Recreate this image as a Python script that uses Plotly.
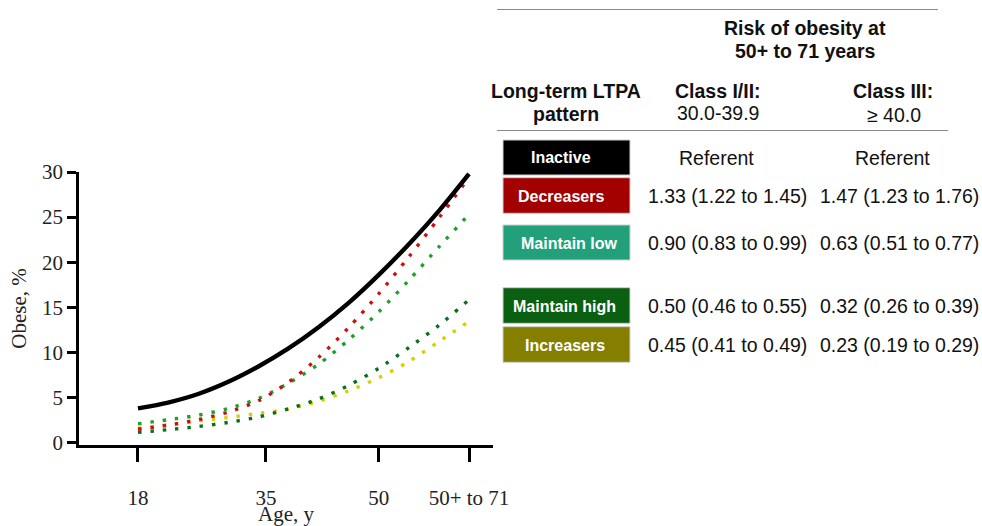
import plotly.graph_objects as go

# ---------------- data ----------------
ages = [18, 22, 26, 30, 34, 38, 42, 46, 50, 54, 58, 62]
inactive = [3.8, 4.45, 5.4, 6.75, 8.45, 10.45, 12.8, 15.5, 18.6, 22.0, 25.7, 29.8]
decreasers = [1.5, 1.95, 2.55, 3.4, 4.65, 6.7, 9.45, 12.75, 16.5, 20.6, 24.9, 29.4]
maintain_low = [2.1, 2.55, 3.05, 3.8, 4.9, 6.6, 8.7, 11.4, 14.5, 18.0, 21.7, 25.3]
maintain_high = [1.15, 1.45, 1.8, 2.25, 2.85, 3.75, 4.85, 6.35, 8.25, 10.55, 13.0, 15.85]
increasers = [1.6, 2.0, 2.4, 2.8, 3.25, 3.75, 4.6, 5.75, 7.2, 9.0, 11.2, 13.45]

x_tickvals = [18, 35, 50, 62]
x_ticktext = ["18", "35", "50", "50+ to 71"]
y_tickvals = [0, 5, 10, 15, 20, 25, 30]

patterns = ["Inactive", "Decreasers", "Maintain low", "Maintain high", "Increasers"]
class12 = ["Referent", "1.33 (1.22 to 1.45)", "0.90 (0.83 to 0.99)",
           "0.50 (0.46 to 0.55)", "0.45 (0.41 to 0.49)"]
class3 = ["Referent", "1.47 (1.23 to 1.76)", "0.63 (0.51 to 0.77)",
          "0.32 (0.26 to 0.39)", "0.23 (0.19 to 0.29)"]

# ---------------- styles ----------------
box_colors = ["#000000", "#A30000", "#22A07A", "#0B5F10", "#857F00"]
curve_styles = [
    (inactive, "#000000", None, 4.4),
    (decreasers, "#CC1010", "3.4px,9px", 3.4),
    (maintain_low, "#1EA02E", "3.4px,9px", 3.4),
    (maintain_high, "#0C6E1C", "3.4px,9px", 3.4),
    (increasers, "#D8CF00", "3.4px,9px", 3.4),
]

fig = go.Figure()
for vals, col, dash, w in [curve_styles[4], curve_styles[3], curve_styles[2], curve_styles[1], curve_styles[0]]:
    line = dict(color=col, width=w, shape="spline", smoothing=0.8)
    if dash:
        line["dash"] = dash
    fig.add_trace(go.Scatter(x=ages, y=vals, mode="lines", line=line,
                             hoverinfo="skip", showlegend=False))

W, H = 982, 526
# plot-area geometry in screen pixels
X0, X1 = 79, 493
Y0, Y1 = 445, 172
def px(x):
    return (x - X0) / (X1 - X0)
def py(y):
    return (Y0 - y) / (Y0 - Y1)

serif = "Liberation Serif, Times New Roman, serif"
sans = "Liberation Sans, Arial, sans-serif"

fig.update_layout(
    template="none",
    width=W, height=H,
    margin=dict(l=X0, r=W - X1, t=Y1, b=H - Y0, pad=0, autoexpand=False),
    paper_bgcolor="white", plot_bgcolor="white",
    showlegend=False,
    xaxis=dict(range=[10.16, 65.19], tickvals=x_tickvals, ticktext=x_ticktext,
               automargin=False,
               showgrid=False, zeroline=False, showline=True, linecolor="black",
               linewidth=2.6, ticks="outside", ticklen=14, tickwidth=2.6,
               tickcolor="black", ticklabelstandoff=18,
               tickfont=dict(family=serif, size=21, color="#222"),
               title=dict(text="Age, y", font=dict(family=serif, size=21, color="#222"),
                          standoff=8)),
    yaxis=dict(range=[-0.25, 30], tickvals=y_tickvals,
               automargin=False,
               showgrid=False, zeroline=False, showline=True, linecolor="black",
               linewidth=2.6, ticks="outside", ticklen=9, tickwidth=2.6,
               tickcolor="black",
               tickfont=dict(family=serif, size=21, color="#222"),
               title=dict(text="Obese, %", font=dict(family=serif, size=21, color="#222"),
                          standoff=10)),
)

shapes = []
annotations = []

def txt(text, x, y, size=19.5, bold=False, color="#111", xanchor="center"):
    if bold:
        text = "<b>" + text + "</b>"
    annotations.append(dict(text=text, x=px(x), y=py(y), xref="paper", yref="paper",
                            xanchor=xanchor, yanchor="middle", showarrow=False,
                            font=dict(family=sans, size=size, color=color)))

# horizontal rules
shapes.append(dict(type="line", xref="paper", yref="paper", x0=px(497), x1=px(938),
                   y0=py(9.5), y1=py(9.5), line=dict(color="#8a8a8a", width=1.2)))
shapes.append(dict(type="line", xref="paper", yref="paper", x0=px(497), x1=px(948),
                   y0=py(130.5), y1=py(130.5), line=dict(color="#8a8a8a", width=1.2)))

# headers
txt("Risk of obesity at", 805, 28, bold=True)
txt("50+ to 71 years", 805, 51, bold=True)
txt("Long-term LTPA", 566, 91, bold=True)
txt("pattern", 566, 114, bold=True)
txt("Class I/II:", 718, 91, bold=True)
txt("30.0-39.9", 718, 113)
txt("Class III:", 893, 91, bold=True)
txt("\u2265 40.0", 894, 115)

# rows
box_top = [140, 177.7, 225, 287.7, 326.7]
box_bot = [175, 213.3, 260, 323.3, 362.3]
label_cx = [561, 561, 569, 564, 565]
row_y = [157.5, 196, 243, 306, 345]
for i, name in enumerate(patterns):
    shapes.append(dict(type="rect", xref="paper", yref="paper",
                       x0=px(503), x1=px(630), y0=py(box_bot[i]), y1=py(box_top[i]),
                       fillcolor=box_colors[i], line=dict(color="#cfcfcf", width=1)))
    txt(name, label_cx[i], row_y[i], size=16, bold=True, color="white")
    if i == 0:
        txt(class12[i], 716, row_y[i])
        txt(class3[i], 892, row_y[i])
    else:
        txt(class12[i], 646, row_y[i], xanchor="left")
        txt(class3[i], 818, row_y[i], xanchor="left")

fig.update_layout(shapes=shapes, annotations=annotations)
fig.write_html("out.html",
               config={"displayModeBar": False},
               post_script="document.body.style.margin='0px';"
                           "document.body.style.overflow='hidden';")
